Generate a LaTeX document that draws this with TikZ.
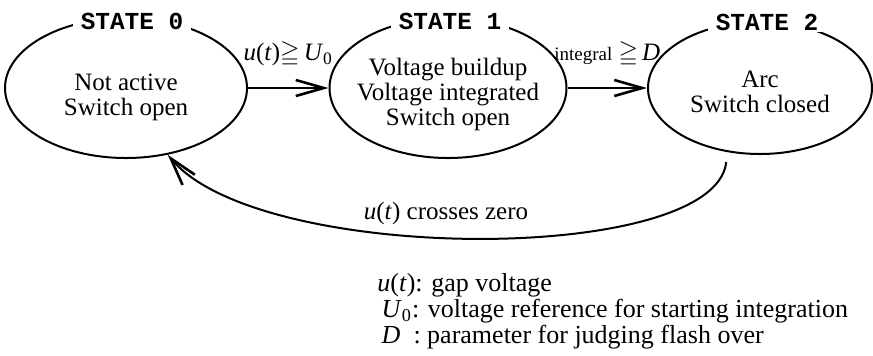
\documentclass[tikz,border=0pt]{standalone}
\usepackage{amssymb}
\usepackage{fontspec}
\setmainfont{Liberation Serif}
\setmonofont{Liberation Mono}
\usetikzlibrary{arrows.meta, shapes.geometric}

\tikzset{
  statebox/.style={draw, ellipse, line width=1pt, inner sep=0pt},
  statetext/.style={font=\fontsize{12.5}{12.5}\selectfont, align=center, inner sep=0pt},
  statelbl/.style={font=\fontsize{12.2}{12.2}\selectfont\ttfamily\bfseries, fill=white, inner xsep=4pt, inner ysep=1pt},
  trans/.style={line width=1pt, -{Straight Barb[length=14pt, width=8pt, line width=1.3pt]}},
  edgelbl/.style={font=\fontsize{12.5}{12.5}\selectfont, inner sep=1pt},
  legend/.style={font=\fontsize{13}{13}\selectfont, align=left, inner sep=0pt},
}

\begin{document}
\begin{tikzpicture}[x=0.5pt, y=-0.5pt]
\useasboundingbox (0,0) rectangle (873,355);

% States
\node[statebox, minimum width=121pt, minimum height=70pt] (s0) at (126,88) {};
\node[statebox, minimum width=118.5pt, minimum height=70pt] (s1) at (448,88) {};
\node[statebox, minimum width=112pt, minimum height=66pt] (s2) at (760,88) {};

\node[statelbl] (n0) at (132,21) {STATE 0};
\node[statelbl] (n1) at (450,21) {STATE 1};
\node[statelbl] (n2) at (767,22) {STATE 2};

\node[statetext] (t0) at (126,97) {Not active\\Switch open};
\node[statetext] (t1) at (448,94) {Voltage buildup\\Voltage integrated\\Switch open};
\node[statetext] (t2) at (760,92) {Arc\\Switch closed};

% Transitions
\draw[trans] (s0.east) -- node[edgelbl, above=9pt] (e01) {\textit{u}(\textit{t})$\geqq$\,\textit{U}\textsubscript{0}} (s1.west);
\draw[trans] (s1.east) -- node[edgelbl, above=9pt] (e12) {{\fontsize{9.5}{9.5}\selectfont integral} $\geqq$\,\textit{D}} (s2.west);

% Back to state 0
\draw[trans, shorten <=5pt] (s2.243) .. controls (715,265) and (260,265) .. (s0.-58.6);
\node[edgelbl] (lz) at (446,213) {\textit{u}(\textit{t}) crosses zero};

% Symbols
\node[legend, anchor=west] (key) at (377,311) {\textit{u}(\textit{t}): gap voltage\\
  \,\textit{U}\textsubscript{0}: voltage reference for starting integration\\
  \,\textit{D}\ \ : parameter for judging flash over};

\end{tikzpicture}
\end{document}
